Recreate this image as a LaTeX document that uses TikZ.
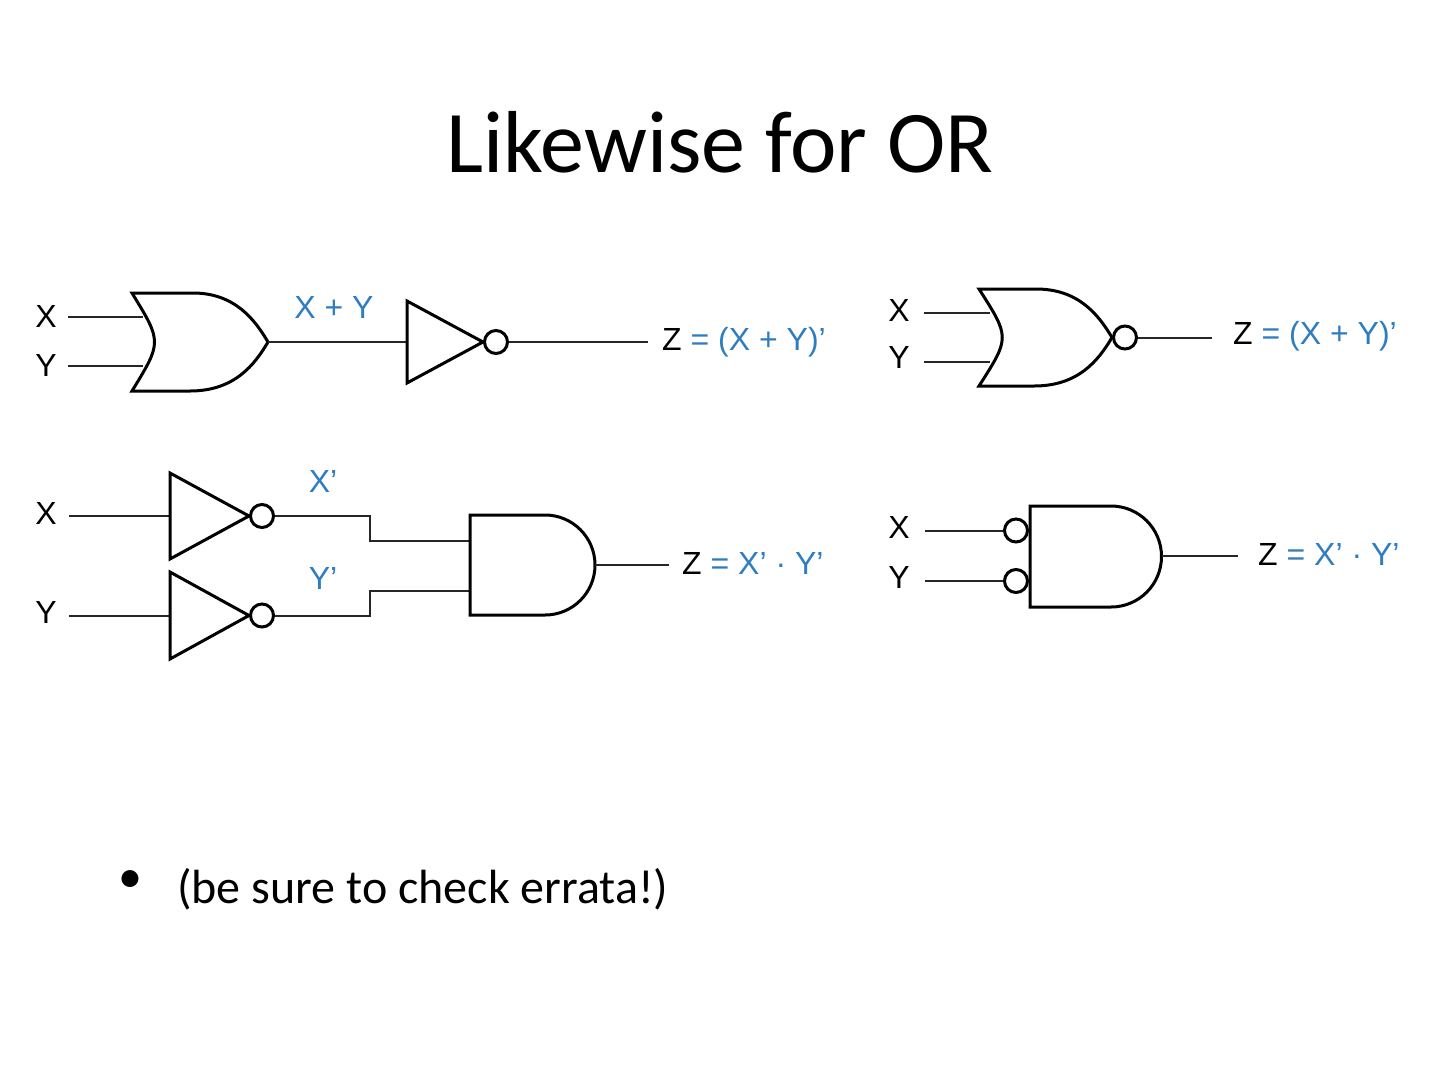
\documentclass[tikz,border=0pt]{standalone}
\usepackage{fontspec}
\setmainfont{Carlito}
\newfontfamily\labfont{Liberation Sans}
\definecolor{lblue}{HTML}{2F7DC1}
\begin{document}
\begin{tikzpicture}[x=1pt,y=-1pt,
  gate/.style={line width=3pt, draw=black, fill=white, line join=miter},
  bubble/.style={line width=3pt, draw=black, fill=white},
  wire/.style={line width=2pt, draw=black!85},
  lab/.style={font=\labfont\fontsize{32}{36}\selectfont, inner sep=0pt},
  blab/.style={lab, text=lblue}]
\useasboundingbox (0,0) rectangle (1440,1080);
\fill[white] (0,0) rectangle (1440,1080);

% Title
\node[anchor=base, font=\fontsize{88}{100}\selectfont, inner sep=0pt] (title) at (720,172.7) {Likewise for OR};

% ---------------- Top-left: OR + NOT ----------------
\node[lab] (tlX) at (46,316) {X};
\node[lab] (tlY) at (46,365) {Y};
\coordinate (tlXs) at (68,317);
\coordinate (tlYs) at (68,366);
\coordinate (tlXe) at (143,317);
\coordinate (tlYe) at (143,366);
\draw[wire] (tlXs) -- (tlXe);
\draw[wire] (tlYs) -- (tlYe);
\draw[gate] (132,293) -- (193,293) .. controls (235,293) and (255,320) .. (268,342)
  .. controls (255,364) and (235,391) .. (190,391) -- (132,391)
  .. controls (162,342) .. (132,293) -- cycle;
\coordinate (tlOR) at (268,342);
\coordinate (tlNOTin) at (407,342);
\draw[wire] (tlOR) -- (tlNOTin);
\draw[gate] (407,301) -- (483,342) -- (407,383) -- cycle;
\node[bubble, circle, minimum size=23pt, inner sep=0pt] (tlB) at (496,342) {};
\coordinate (tlOut) at (648,342);
\draw[wire] (tlB.east) -- (tlOut);
\node[blab] (tlXY) at (334,307) {X + Y};
\node[lab, anchor=west] (tlZ) at (662,342) {Z {\color{lblue}= (X + Y)’}};

% ---------------- Top-right: NOR ----------------
\node[lab] (trX) at (899,310) {X};
\node[lab] (trY) at (899,357) {Y};
\coordinate (trXs) at (924,313);
\coordinate (trYs) at (924,362);
\coordinate (trXe) at (990,313);
\coordinate (trYe) at (990,362);
\draw[wire] (trXs) -- (trXe);
\draw[wire] (trYs) -- (trYe);
\draw[gate] (979,289) -- (1036,289) .. controls (1078,289) and (1098,314) .. (1112,337.5)
  .. controls (1098,361) and (1078,386) .. (1034,386) -- (979,386)
  .. controls (1010,337.5) .. (979,289) -- cycle;
\node[bubble, circle, minimum size=23pt, inner sep=0pt] (trB) at (1125,337.5) {};
\coordinate (trOut) at (1212,337.5);
\draw[wire] (trB.east) -- (trOut);
\node[lab, anchor=west] (trZ) at (1233,336) {Z {\color{lblue}= (X + Y)’}};

% ---------------- Bottom-left: NOT, NOT, AND ----------------
\node[lab] (blX) at (46,513) {X};
\node[lab] (blY) at (46,612) {Y};
\coordinate (blXs) at (69,516);
\coordinate (blYs) at (69,615.5);
\coordinate (blXn) at (170,516);
\coordinate (blYn) at (170,615.5);
\draw[wire] (blXs) -- (blXn);
\draw[wire] (blYs) -- (blYn);
\draw[gate] (170,473) -- (249,516) -- (170,559) -- cycle;
\draw[gate] (170,572) -- (249,615.5) -- (170,659) -- cycle;
\node[bubble, circle, minimum size=23pt, inner sep=0pt] (blB1) at (262,516) {};
\node[bubble, circle, minimum size=23pt, inner sep=0pt] (blB2) at (262,615.5) {};
\coordinate (blA1) at (470,541);
\coordinate (blA2) at (470,591);
\draw[wire] (blB1.east) -| (370,541) -- (blA1);
\draw[wire] (blB2.east) -| (370,591) -- (blA2);
\draw[gate] (470,515) -- (545,515) .. controls (572.6,515) and (595,537.4) .. (595,565)
  .. controls (595,592.6) and (572.6,615) .. (545,615) -- (470,615) -- cycle;
\coordinate (blAout) at (595,565);
\coordinate (blOut) at (669,565);
\draw[wire] (blAout) -- (blOut);
\node[blab] (blXp) at (323,481) {X’};
\node[blab] (blYp) at (323,578) {Y’};
\node[lab, anchor=west] (blZ) at (682,563) {Z {\color{lblue}= X’ · Y’}};

% ---------------- Bottom-right: AND with inverted inputs ----------------
\node[lab] (brX) at (899,527) {X};
\node[lab] (brY) at (899,577) {Y};
\node[bubble, circle, minimum size=23pt, inner sep=0pt] (brB1) at (1016,530.5) {};
\node[bubble, circle, minimum size=23pt, inner sep=0pt] (brB2) at (1016,581) {};
\coordinate (brXs) at (925,530.5);
\coordinate (brYs) at (925,581);
\draw[wire] (brXs) -- (brB1.west);
\draw[wire] (brYs) -- (brB2.west);
\draw[gate] (1030,506) -- (1111,506) .. controls (1138.9,506) and (1161.5,528.6) .. (1161.5,556.5)
  .. controls (1161.5,584.4) and (1138.9,607) .. (1111,607) -- (1030,607) -- cycle;
\coordinate (brAout) at (1161.5,556);
\coordinate (brOut) at (1238,556);
\draw[wire] (brAout) -- (brOut);
\node[lab, anchor=west] (brZ) at (1258,554) {Z {\color{lblue}= X’ · Y’}};

% ---------------- Bullet ----------------
\node[font=\fontsize{48}{56}\selectfont, inner sep=0pt] (bul) at (130,882) {•};
\node[anchor=base west, font=\fontsize{48}{56}\selectfont, inner sep=0pt] (btext) at (177,903.3) {(be sure to check errata!)};
\end{tikzpicture}
\end{document}
